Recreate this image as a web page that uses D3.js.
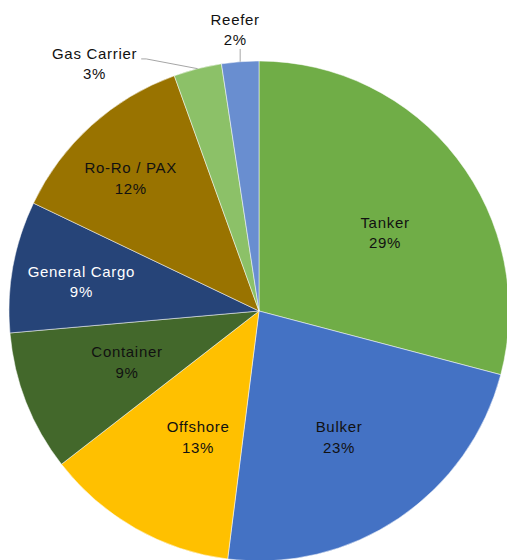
<!DOCTYPE html>
<html>
<head>
<meta charset="utf-8">
<script src="https://cdn.jsdelivr.net/npm/d3@7"></script>
<style>
body { margin: 0; background: white; }
svg text { font-family: "Liberation Sans", Arial, sans-serif; font-size: 15px; letter-spacing: 0.7px; }
</style>
</head>
<body>
<svg id="chart" width="507" height="560"></svg>
<script>
// vessel types, clockwise from 12 o'clock
var categories = ["Tanker", "Bulker", "Offshore", "Container", "General Cargo", "Ro-Ro / PAX", "Gas Carrier", "Reefer"];
// share of fleet in percent
var shares = [29.1, 22.9, 12.5, 9.1, 8.5, 12.4, 3.1, 2.4];
var colors = ["#70AD47", "#4472C4", "#FFC000", "#43682B", "#264478", "#997300", "#8CC168", "#698ED0"];
var textColors = ["#111", "#111", "#111", "#111", "#fff", "#111", "#111", "#111"];

// label layout: inside labels as [fraction of radius, angle shift in degrees],
// the two small slices get a callout offset (px) from the slice's outer midpoint
var insideLabel = {
    "Tanker": [0.594, 5.7],
    "Bulker": [0.597, 1.6],
    "Offshore": [0.56, -3.9],
    "Container": [0.566, 0.3],
    "General Cargo": [0.72, -0.9],
    "Ro-Ro / PAX": [0.74, -1.8]
};
var calloutOffset = {
    "Gas Carrier": [-103, -5],
    "Reefer": [-5, -32]
};

var width = 507, height = 560;
var cx = 259, cy = 311, radius = 250;

var data = categories.map(function(c, i) {
    return {name: c, value: shares[i], color: colors[i], textColor: textColors[i]};
});

var svg = d3.select("#chart");
var g = svg.append("g").attr("transform", "translate(" + cx + "," + cy + ")");

var pie = d3.pie().sort(null).value(function(d) { return d.value; });
var arc = d3.arc().innerRadius(0).outerRadius(radius);
var arcs = pie(data);

g.selectAll("path.slice")
    .data(arcs)
    .enter().append("path")
    .attr("class", "slice")
    .attr("d", arc)
    .attr("fill", function(d) { return d.data.color; })
    .attr("stroke", "white")
    .attr("stroke-width", 0.5);

function midAngle(d) { return (d.startAngle + d.endAngle) / 2; }

// draw a two line label (name + percent) centred on x, y
function addLabel(x, y, d) {
    var t = g.append("text")
        .attr("text-anchor", "middle")
        .attr("fill", d.data.textColor);
    t.append("tspan").attr("x", x).attr("y", y - 4.75).text(d.data.name);
    t.append("tspan").attr("x", x).attr("y", y + 15.75).text(Math.round(d.data.value) + "%");
    return t;
}

arcs.forEach(function(d) {
    var name = d.data.name;
    if (insideLabel[name]) {
        var p = insideLabel[name];
        var a = midAngle(d) + p[1] * Math.PI / 180;
        var pt = d3.pointRadial(a, p[0] * radius);
        addLabel(pt[0], pt[1], d);
    } else {
        var edge = d3.pointRadial(midAngle(d), radius);
        var off = calloutOffset[name];
        var lx = edge[0] + off[0], ly = edge[1] + off[1];
        var t = addLabel(lx, ly, d);
        var bb = t.node().getBBox();
        var pts;
        if (Math.abs(off[0]) < bb.width / 2) {
            // label sits above its slice: straight leader down to the rim
            pts = [[edge[0], bb.y + bb.height + 0.5], edge];
        } else {
            // label to the left: leader from its right side
            var yy = ly - 4.75;
            pts = [[bb.x + bb.width + 4, yy], [bb.x + bb.width + 9, yy], edge];
        }
        g.insert("path", "text")
            .attr("d", d3.line()(pts))
            .attr("fill", "none")
            .attr("stroke", "#A6A6A6")
            .attr("stroke-width", 1);
    }
});
</script>
</body>
</html>
